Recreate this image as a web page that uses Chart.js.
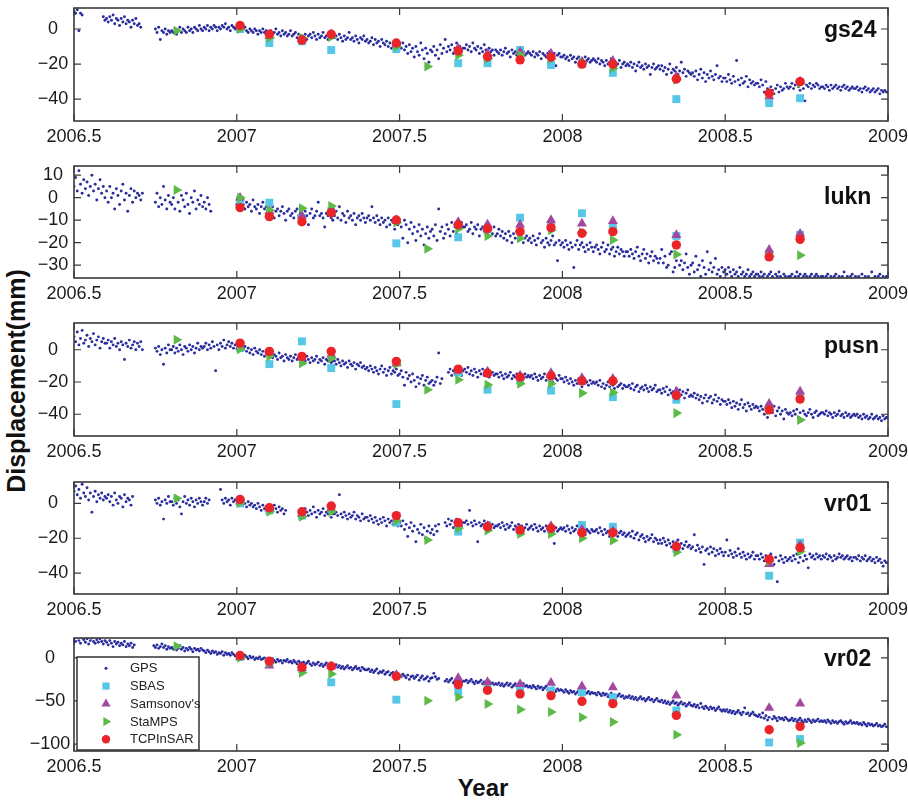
<!DOCTYPE html>
<html>
<head>
<meta charset="utf-8">
<script src="https://cdn.jsdelivr.net/npm/chart.js@4.4.1/dist/chart.umd.min.js"></script>
<style>
  body { margin: 0; background: #fff; width: 908px; height: 802px; position: relative; overflow: hidden;
         font-family: "Liberation Sans", Arial, sans-serif; }
  canvas.panel { position: absolute; left: 0; }
  .ytitle { position: absolute; left: 16px; top: 381px; transform: translate(-50%, -50%) rotate(-90deg);
            font-weight: bold; font-size: 25px; line-height: 1; white-space: nowrap; color: #111; }
  .xtitle { position: absolute; left: 483px; top: 776px; transform: translateX(-50%);
            font-weight: bold; font-size: 24px; line-height: 1; white-space: nowrap; color: #111; }
</style>
</head>
<body>
<div class="ytitle">Displacement(mm)</div>
<div class="xtitle">Year</div>
<script>
// SAR acquisition dates (decimal year)
var sarDates = [2006.815, 2007.01, 2007.10, 2007.20, 2007.29, 2007.49, 2007.585, 2007.68,
                2007.77, 2007.87, 2007.965, 2008.06, 2008.155, 2008.35, 2008.635, 2008.73];

// GPS daily-ish samples, one every 0.005 yr from 2006.5 to 2009.0 (null = no data)
var gpsStart = 2006.5, gpsStep = 0.005;

var gpsGs24 = [
  10, 9, 11, -1, 9, 8, null, null, null, null, null, null, null, null, null, null, null, null, 7, 5,
  6, 4, 7, 5, 8, 3, 6, 5, 2, 6, 4, 7, 3, 5, 4, 1, 5, 3, 6, 2,
  3, 1, null, null, null, null, null, null, null, null, 0, -2, 1, -6, -1, -2, 0, -3, -1, -2,
  -1, -2, 0, -3, -1, 1, -2, 0, -1, -2, 1, -1, 0, -2, 1, 0, -1, 2, 0, -1,
  1, 0, 2, -1, 1, 0, 2, 1, -1, 1, 0, 2, 1, 3, 0, 1, -1, 2, 1, 0,
  1, 0, 2, -1, 0, 1, -1, -2, 0, -1, -2, 0, -1, -3, -1, -2, 0, -2, -1, -3,
  -2, -1, -3, -2, 0, -3, -2, -4, -1, -3, -2, -4, -3, -1, -4, -3, -2, -5, -3, -4,
  -4, -5, -3, -6, -4, -3, -5, -2, -4, -6, -3, -5, -4, -2, -5, -4, -6, -3, -5, -4,
  -5, -4, -6, -3, -5, -7, -4, -6, -5, -2, -6, -5, -7, -4, -6, -8, -5, -6, -4, -7,
  -6, -8, -7, -5, -9, -6, -8, -7, -10, -6, -8, -9, -7, -10, -8, -11, -9, -7, -10, -9,
  -9, -11, -8, -12, -10, -14, -9, -13, -11, -16, -10, -13, -15, -8, -12, -17, -11, -14, -19, -12,
  -13, -10, -15, -12, -17, -9, -14, -11, -6, -13, -10, -12, -9, -14, -11, -8, -12, -10, -13, -11,
  -11, -9, -12, -10, -13, -8, -11, -12, -10, -14, -11, -13, -9, -12, -14, -11, -13, -12, -15, -12,
  -13, -14, -12, -15, -13, -11, -14, -13, -16, -12, -14, -13, -15, -12, -14, -16, -13, -15, -14, -13,
  -14, -15, -13, -16, -14, -15, -13, -17, -14, -15, -16, -14, -13, -15, -17, -14, -21, -15, -14, -16,
  -16, -15, -17, -16, -18, -15, -17, -16, -19, -17, -16, -18, -17, -19, -16, -18, -17, -19, -18, -17,
  -18, -19, -17, -20, -18, -19, -21, -18, -20, -19, -17, -20, -19, -21, -20, -18, -22, -20, -19, -21,
  -20, -21, -19, -22, -20, -24, -21, -19, -22, -21, -23, -20, -22, -21, -26, -22, -20, -23, -22, -21,
  -23, -21, -24, -22, -26, -23, -20, -25, -23, -24, -22, -26, -24, -19, -25, -23, -27, -24, -25, -26,
  -25, -27, -24, -29, -26, -23, -28, -25, -30, -26, -28, -24, -27, -29, -26, -21, -28, -27, -30, -28,
  -28, -30, -26, -29, -31, -27, -30, -18, -29, -32, -28, -31, -30, -27, -33, -29, -31, -30, -32, -31,
  -31, -33, -29, -32, -36, -30, -34, -39, -33, -35, -37, -34, -32, -36, -33, -35, -34, -31, -33, -34,
  -33, -31, -34, -32, -30, -33, -35, -31, -34, -41, -32, -33, -31, -34, -32, -33, -31, -32, -34, -33,
  -33, -34, -32, -33, -35, -32, -34, -33, -32, -34, -33, -35, -33, -32, -34, -33, -35, -34, -33, -34,
  -34, -33, -35, -34, -36, -34, -33, -35, -34, -36, -35, -34, -36, -35, -34, -37, -35, -36, -35, -36,
  -36
];

var gpsLukn = [
  5, 9, 3, 12, 6, 2, 8, 4, 7, 1, 5, 10, 3, 6, -1, 4, 8, 2, 5, 0,
  3, -2, 5, 0, 2, -5, 4, 1, -3, 3, 6, -1, 2, -6, 1, 4, -2, 3, 0, 2,
  1, -1, 2, null, null, null, null, null, null, null, -2, 2, -4, 0, -3, 5, -1, -5, 1, -2,
  -3, 0, -5, 3, -2, -6, 1, -1, -4, 2, -3, -7, 0, -2, 3, -5, -1, -3, 1, -4,
  -2, -5, 0, -3, -6, null, null, null, null, null, null, null, null, null, null, null, null, null, null, null,
  -3, -2, -4, -1, -3, -5, -2, -4, -3, -6, -1, -4, -5, -3, -7, -4, -2, -5, -4, -6,
  -5, -7, -4, -9, -6, -5, -8, -6, -4, -7, -10, -6, -5, -8, -7, -9, -6, -5, -8, -7,
  -7, -9, -6, -8, -12, -7, -5, -9, -8, -6, -2, -8, -7, -9, -13, -7, -8, -6, -9, -10,
  -8, -6, -9, -4, -10, -7, -8, -11, -6, -9, -8, -10, -7, -12, -9, -8, -10, -7, -9, -11,
  -9, -8, -10, -4, -9, -11, -8, -10, -12, -9, -11, -10, -13, -9, -12, -10, -11, -14, -10, -12,
  -11, -13, -18, -10, -12, -20, -14, -11, -16, -13, -19, -15, -12, -17, -14, -21, -16, -13, -18, -15,
  -14, -17, -12, -19, -5, -15, -13, -18, -16, -12, -14, -17, -11, -15, -13, -16, -12, -14, -11, -13,
  -13, -12, -15, -14, -11, -16, -13, -14, -12, -17, -14, -13, -15, -16, -12, -15, -14, -16, -13, -17,
  -16, -14, -17, -15, -18, -16, -19, -15, -17, -20, -16, -18, -15, -19, -17, -16, -20, -18, -17, -19,
  -18, -20, -17, -19, -21, -18, -16, -20, -19, -22, -18, -20, -21, -19, -17, -21, -20, -28, -19, -21,
  -20, -22, -19, -21, -23, -20, -22, -31, -21, -19, -23, -21, -20, -22, -24, -21, -23, -20, -22, -24,
  -22, -21, -23, -25, -22, -20, -24, -23, -21, -25, -23, -22, -26, -24, -22, -25, -23, -24, -26, -24,
  -24, -26, -23, -25, -27, -24, -22, -26, -28, -25, -23, -27, -25, -29, -26, -24, -28, -26, -27, -29,
  -27, -23, -29, -26, -31, -30, -25, -24, -33, -31, -28, -22, -30, -28, -32, -29, -25, -31, -34, -30,
  -29, -33, -26, -32, -30, -35, -28, -31, -34, -24, -32, -29, -33, -31, -27, -34, -32, -35, -31, -33,
  -32, -34, -31, -33, -35, -32, -34, -33, -35, -31, -34, -33, -35, -34, -32, -35, -34, -33, -35, -34,
  -34, -35, -33, -35, -34, -36, -35, -34, -33, -35, -36, -34, -35, -33, -35, -36, -34, -35, -36, -35,
  -35, -34, -36, -35, -33, -35, -34, -36, -35, -34, -35, -36, -35, -34, -36, -35, -34, -35, -36, -35,
  -35, -36, -35, -34, -36, -35, -36, -35, -34, -36, -35, -36, -35, -33, -36, -35, -36, -35, -34, -36,
  -35, -36, -35, -36, -34, -36, -35, -36, -35, -36, -33, -36, -35, -36, -35, -34, -36, -35, -36, -35,
  -36
];

var gpsPusn = [
  8, 5, 11, 3, 7, 12, 4, 6, 9, 2, 7, 5, 10, 3, 6, 8, 1, 5, 7, 4,
  4, 6, 1, 5, 3, 7, 2, 4, 0, 5, 3, -6, 4, 2, 6, 1, 3, 5, 0, 4,
  2, 5, 0, null, null, null, null, null, null, null, 1, -1, 2, -3, 0, -9, 1, -2, 3, 0,
  0, 2, -2, 1, -1, 3, 0, -3, 2, 1, -1, 3, 0, 2, -2, 1, 4, 0, 2, 1,
  2, 4, 0, 3, 1, 5, 2, -13, 3, 0, 4, 2, 6, 1, 3, 5, 2, 4, 1, 3,
  3, 5, 1, 4, 0, 2, -1, 1, -2, 0, -3, 1, -1, -2, 0, -3, -1, -4, -2, -3,
  -3, -2, -5, -3, -4, -6, -2, -5, -4, -7, -3, -5, -6, -4, -7, -5, -3, -6, -5, -7,
  -6, -5, -7, -4, -6, -8, -5, -7, -6, -4, -8, -6, -7, -5, -9, -6, -7, -5, -8, -7,
  -7, -9, -6, -8, -10, -7, -9, -8, -11, -7, -9, -10, -8, -12, -9, -10, -8, -11, -10, -12,
  -11, -13, -10, -12, -14, -11, -13, -15, -12, -10, -14, -12, -16, -13, -11, -15, -13, -14, -12, -16,
  -15, -13, -17, -22, -14, -18, -16, -20, -15, -19, -23, -17, -21, -18, -16, -22, -19, -17, -21, -20,
  -19, -22, -20, -17, -2, -21, -18, null, null, null, -14, -12, -16, -13, -15, -11, -14, -12, -16, -13,
  -12, -14, -11, -15, -13, -16, -12, -14, -17, -13, -15, -12, -16, -14, -13, -17, -15, -14, -16, -15,
  -15, -17, -14, -16, -18, -15, -17, -16, -14, -18, -16, -17, -15, -19, -16, -17, -18, -15, -17, -16,
  -17, -16, -18, -15, -17, -19, -16, -18, -17, -15, -19, -17, -18, -16, -20, -17, -18, -19, -16, -18,
  -18, -20, -17, -19, -21, -18, -20, -22, -19, -21, -18, -20, -23, -19, -21, -20, -22, -19, -21, -20,
  -21, -20, -22, -19, -23, -21, -24, -22, -20, -23, -21, -22, -24, -20, -23, -22, -21, -24, -22, -23,
  -23, -22, -24, -21, -25, -23, -22, -26, -24, -23, -25, -22, -24, -26, -23, -25, -24, -22, -26, -25,
  -25, -27, -24, -26, -23, -28, -25, -27, -26, -29, -24, -27, -25, -28, -26, -30, -27, -25, -29, -28,
  -29, -27, -30, -28, -31, -29, -33, -30, -28, -32, -30, -29, -33, -31, -28, -32, -30, -34, -31, -32,
  -32, -34, -31, -33, -36, -32, -35, -33, -37, -34, -31, -36, -34, -38, -33, -35, -37, -34, -36, -35,
  -36, -38, -35, -37, -40, -36, -42, -38, -37, -39, -35, -41, -38, -36, -40, -38, -43, -37, -39, -40,
  -39, -41, -38, -40, -37, -42, -39, -44, -38, -40, -41, -39, -37, -40, -42, -39, -38, -41, -40, -39,
  -39, -40, -38, -41, -39, -40, -42, -39, -41, -40, -38, -41, -40, -42, -39, -41, -40, -42, -41, -40,
  -41, -40, -42, -41, -43, -40, -42, -41, -43, -42, -40, -43, -42, -41, -43, -42, -44, -41, -43, -42,
  -42
];

var gpsVr01 = [
  7, 10, 5, 8, 3, 11, 6, 4, 9, 2, 6, -5, 4, 7, 1, 5, 3, 6, 2, 4,
  3, 5, 1, 4, -1, 6, 2, 0, 4, 3, -2, 5, 1, 3, 2, -1, 4, null, null, null,
  null, null, null, null, null, null, null, null, null, null, 2, 0, 3, -1, 1, -9, 2, 0, 4, 1,
  1, -1, 3, 0, 2, -2, -6, 1, 4, 0, 2, -1, 3, 1, -2, 2, 0, 3, 1, -1,
  1, 3, 0, 2, null, null, null, null, null, null, 8, 2, 0, 3, 1, 2, -1, 3, 1, 2,
  2, 0, 1, -1, 2, 0, -2, 1, -1, 0, -2, -1, -3, 0, -2, -4, -1, -3, -2, -4,
  -3, -2, -4, -1, -3, -5, -2, -4, -3, -6, -4, null, null, null, null, null, null, null, null, -5,
  -4, -6, -3, -5, -7, -4, -6, -2, -5, -8, -4, -6, -5, -3, -7, -5, -6, -4, -8, -6,
  -6, -5, -7, 5, -6, -8, -5, -7, -9, -6, -8, -7, -5, -9, -7, -8, -10, -6, -9, -8,
  -8, -10, -7, -9, -11, -8, -10, -12, -9, -11, -8, -10, -13, -9, -11, -10, -12, -9, -11, -13,
  -11, -13, -10, -15, -12, -19, -14, -11, -16, -13, -22, -15, -17, -12, -18, -14, -20, -16, -13, -17,
  -15, -18, -13, -16, -12, null, null, null, -11, -13, -9, -12, -10, -14, -11, -9, -12, -10, -13, -11,
  -11, -10, -12, -4, -11, -13, -10, -12, -22, -11, -13, -12, -10, -14, -12, -11, -13, -12, -14, -13,
  -13, -12, -14, -11, -13, -15, -12, -14, -13, -11, -15, -13, -14, -12, -16, -13, -15, -14, -12, -15,
  -14, -13, -15, -12, -14, -16, -13, -15, -14, -16, -13, -15, -14, -17, -15, -23, -14, -16, -15, -14,
  -15, -14, -16, -13, -15, -17, -14, -16, -15, -13, -17, -15, -16, -14, -18, -15, -16, -17, -15, -16,
  -16, -15, -17, -14, -16, -18, -15, -17, -16, -19, -17, -15, -18, -16, -19, -17, -16, -18, -17, -19,
  -18, -17, -19, -16, -20, -18, -17, -21, -19, -18, -20, -22, -19, -21, -20, -18, -22, -20, -21, -23,
  -21, -23, -20, -22, -24, -21, -23, -25, -22, -24, -23, -21, -25, -23, -26, -24, -22, -25, -24, -26,
  -25, -18, -27, -24, -26, -28, -25, -35, -27, -26, -29, -25, -28, -26, -30, -27, -29, -26, -28, -30,
  -28, -21, -30, -27, -29, -31, -28, -30, -26, -29, -31, -28, -30, -32, -29, -31, -30, -28, -32, -30,
  -30, -32, -29, -31, -33, -30, -34, -31, -29, -33, -35, -31, -45, -33, -30, -32, -34, -31, -33, -32,
  -31, -33, -30, -32, -29, -34, -31, -28, -33, -30, -32, -37, -29, -31, -30, -32, -29, -31, -30, -32,
  -30, -31, -29, -32, -30, -31, -33, -30, -32, -31, -29, -31, -30, -32, -31, -30, -32, -31, -33, -31,
  -31, -32, -30, -33, -31, -32, -30, -33, -32, -31, -33, -32, -34, -31, -33, -32, -34, -36, -33, -34,
  -34
];

var gpsVr02 = [
  22, 19, 24, 20, 17, 23, 21, 18, 22, 16, 20, 23, 19, 17, 21, 18, 22, 19, 16, 20,
  18, 15, 20, 17, 13, 19, 16, 18, 14, 17, 15, 19, 13, 16, 14, 17, 12, 15, null, null,
  null, null, null, null, null, null, null, null, null, 14, 12, 15, 11, 13, 16, 12, 14, 10, 13, 11,
  12, 10, 13, 9, 11, 14, 10, 12, 8, 11, 9, 12, 10, 7, 11, 9, 10, 8, 11, 9,
  8, 6, 9, 7, 5, 8, 6, 7, 4, 6, 5, 7, 3, 6, 4, 5, 3, 6, 4, 2,
  3, 1, 4, 2, 0, 3, 1, -1, 2, 0, 1, -2, 0, -1, 1, -2, -1, 0, -3, -1,
  -2, -4, -1, -3, -5, -2, -4, -3, -6, -3, -4, -2, -5, -4, -6, -3, -5, -7, -4, -6,
  -6, -5, -8, -6, -4, -7, -9, -6, -8, -7, -5, -9, -7, -10, -8, -6, -9, -8, -11, -9,
  -10, -8, -11, -9, -12, -10, -13, -11, -9, -12, -11, -14, -12, -10, -13, -12, -15, -11, -13, -14,
  -14, -13, -16, -14, -17, -15, -13, -18, -16, -17, -15, -19, -17, -16, -20, -18, -17, -21, -19, -20,
  -20, -22, -19, -21, -23, -20, -25, -22, -21, -24, -22, -20, -26, -23, -21, -25, -24, -22, -27, -24,
  -23, -18, -22, -25, -24, null, null, null, -27, -25, -28, -26, -24, -29, -27, -25, -28, -26, -29, -27,
  -27, -26, -29, -27, -25, -28, -30, -27, -29, -28, -26, -30, -28, -31, -29, -27, -30, -29, -31, -30,
  -31, -29, -32, -30, -33, -31, -29, -32, -30, -34, -32, -30, -33, -31, -34, -32, -30, -33, -32, -34,
  -33, -35, -32, -34, -36, -33, -35, -34, -37, -35, -33, -37, -36, -38, -35, -37, -39, -36, -38, -37,
  -38, -40, -37, -39, -41, -38, -40, -39, -42, -40, -38, -41, -39, -42, -40, -41, -39, -42, -40, -41,
  -41, -43, -40, -42, -44, -41, -43, -42, -45, -43, -41, -44, -43, -46, -44, -42, -45, -44, -47, -45,
  -46, -44, -47, -45, -48, -46, -49, -47, -45, -48, -47, -50, -48, -46, -49, -48, -51, -49, -47, -50,
  -51, -49, -52, -50, -53, -51, -54, -52, -50, -53, -52, -55, -53, -51, -54, -53, -56, -54, -52, -55,
  -56, -54, -57, -55, -58, -53, -57, -59, -56, -58, -60, -57, -59, -58, -61, -59, -57, -60, -62, -60,
  -62, -60, -63, -61, -64, -62, -65, -63, -61, -64, -66, -63, -58, -65, -64, -67, -65, -63, -66, -67,
  -68, -66, -69, -64, -70, -67, -72, -69, -58, -71, -68, -70, -73, -69, -71, -70, -72, -69, -71, -73,
  -72, -70, -73, -71, -74, -72, -70, -73, -75, -72, -74, -71, -73, -75, -72, -74, -73, -71, -74, -73,
  -74, -73, -75, -72, -74, -76, -73, -75, -74, -76, -74, -73, -75, -77, -74, -76, -75, -73, -76, -75,
  -76, -75, -77, -76, -78, -75, -77, -79, -76, -78, -77, -79, -78, -76, -79, -78, -80, -79, -77, -80,
  -80
];

// InSAR results at sarDates (null = no marker)
var sbasGs24   = [null, 0, -8, -7, -12, -11.5, null, -19.5, -19.5, -12, -20.5, -20, -25, -40, -42.3, -39.5];
var samsGs24   = [null, 1, -4, -6, -3, -9, null, -11, -14, -13, -14, -18.5, -18.2, -27, -38.5, -30];
var stampsGs24 = [-1, 0, -5, -5, -4.5, -10, -21.4, -15, -17, -14.8, -17, -19, -22.4, -29, -37, -31];
var tcpGs24    = [null, 2, -3, -6.3, -3, -8, null, -12.5, -15.8, -17.6, -16, -20, -20, -28.5, -36.6, -30];

var sbasLukn   = [null, -1, -2.2, -9, -6, -20.3, null, -17.6, -14, -8.9, -12, -6.9, -12.5, -17, -25, -16.5];
var samsLukn   = [null, 0, -6, -8.1, -5, -10, null, -10.8, -11.9, -12.1, -9.9, -11.5, -10.4, -16.6, -23.2, -16];
var stampsLukn = [3.4, 0, -5.6, -4.7, -3.7, -11, -22.7, -13.8, -17, -18, -14.5, -15.5, -18.8, -25.2, -26, -25.6];
var tcpLukn    = [null, -4.4, -8.4, -10.7, -6.7, -9.9, null, -12, -13.8, -15.1, -13.3, -15.8, -15.1, -21, -26.3, -18.5];

var sbasPusn   = [null, 1, -8.9, 5.2, -11.4, -33.7, null, -14, -24.8, -19, -25.3, -19.5, -29.4, -31, -36, -30];
var samsPusn   = [null, 2, -2, -5, -3, -8.6, null, -13, -13.5, -16, -14.5, -17.6, -18, -25.9, -33.5, -25.9];
var stampsPusn = [6.2, 0.4, -4.1, -8.3, -5.2, -9, -24.8, -18.6, -21.7, -21.1, -21.1, -26.9, -26.5, -39.3, -37.5, -43.5];
var tcpPusn    = [null, 4.1, -1, -4.1, -1, -7.2, null, -12, -14.5, -17, -16.1, -19.3, -19.3, -28.4, -37.3, -30.6];

var sbasVr01   = [null, 0, -4, -7, -3, -11, null, -16.2, -13, -16, -15, -12.4, -13.4, -26, -41.5, -22.5];
var samsVr01   = [null, 1, -3, -6, -3, -9, null, -12, -13, -15, -13, -15, -16, -24, -34.9, -24];
var stampsVr01 = [2.9, 0.4, -4.8, -7.6, -4.8, -10, -21, -14.3, -15.6, -17.5, -17.5, -20, -21.3, -28, -33, -27.6];
var tcpVr01    = [null, 2.3, -2.5, -4.8, -1.5, -7, null, -11, -13.4, -15.2, -14.3, -16.8, -16.8, -24.8, -32, -25.4];

var sbasVr02   = [null, 1, -5, -13, -28.4, -48.5, null, -38.8, -34, -35, -38, -40, -45.8, -61, -98.1, -94.2];
var samsVr02   = [null, 1, -8.9, -12, -10, -20, null, -23.3, -28, -30.3, -29, -33, -34.2, -43.8, -58.1, -53.1];
var stampsVr02 = [13.5, 0, -6, -17.4, -18.6, -22, -49.7, -45.5, -53.5, -60, -62.8, -69, -74.4, -89.2, null, -98.8];
var tcpVr02    = [null, 2.7, -3.9, -10.9, -9.7, -21.3, null, -31, -37.6, -41.9, -43.8, -50.4, -53.1, -66.7, -83.4, -79.5];

var seriesNames = ['GPS', 'SBAS', "Samsonov's", 'StaMPS', 'TCPInSAR'];

// layout / style per panel
var panels = [
  { name: 'gs24', top: 0,   h: 150, min: -52.5, max: 12,   step: 20, pad: 5.75, nameY: 29,
    gps: gpsGs24, sbas: sbasGs24, sams: samsGs24, stamps: stampsGs24, tcp: tcpGs24 },
  { name: 'lukn', top: 158, h: 149, min: -35.7, max: 14.1, step: 10, pad: 5.75, nameY: 38,
    gps: gpsLukn, sbas: sbasLukn, sams: samsLukn, stamps: stampsLukn, tcp: tcpLukn },
  { name: 'pusn', top: 315, h: 150, min: -53.5, max: 16.6, step: 20, pad: 5.75, nameY: 30,
    gps: gpsPusn, sbas: sbasPusn, sams: samsPusn, stamps: stampsPusn, tcp: tcpPusn },
  { name: 'vr01', top: 474, h: 149, min: -52,   max: 12.3, step: 20, pad: 5.75, nameY: 29,
    gps: gpsVr01, sbas: sbasVr01, sams: samsVr01, stamps: stampsVr01, tcp: tcpVr01 },
  { name: 'vr02', top: 630, h: 150, min: -108,  max: 23,   step: 50, pad: 3.75, nameY: 28, legend: true,
    gps: gpsVr02, sbas: sbasVr02, sams: samsVr02, stamps: stampsVr02, tcp: tcpVr02 }
];

var FONT = '"Liberation Sans", Arial, sans-serif';
var AXIS = '#3a3a3a';

function toPoints(xs, ys) {
  var out = [];
  for (var i = 0; i < ys.length; i++) {
    if (ys[i] !== null) out.push({ x: xs[i], y: ys[i] });
  }
  return out;
}

var gpsTimes = [];
for (var k = 0; k < gpsGs24.length; k++) gpsTimes.push(Math.round((gpsStart + k * gpsStep) * 1000) / 1000);

function marker(ctx, style, rot, r, x, y) {
  ctx.beginPath();
  if (style === 'circle') {
    ctx.arc(x, y, r, 0, Math.PI * 2);
  } else if (style === 'rect') {
    var s = r * Math.SQRT1_2;
    ctx.rect(x - s, y - s, 2 * s, 2 * s);
  } else if (style === 'triangle' && rot === 90) {
    ctx.moveTo(x + r, y);
    ctx.lineTo(x - 0.5 * r, y - 0.866 * r);
    ctx.lineTo(x - 0.5 * r, y + 0.866 * r);
  } else {
    ctx.moveTo(x, y - r);
    ctx.lineTo(x + 0.866 * r, y + 0.5 * r);
    ctx.lineTo(x - 0.866 * r, y + 0.5 * r);
  }
  ctx.closePath();
  ctx.fill();
}

var framePlugin = {
  id: 'frame',
  afterDatasetsDraw: function (chart, args, opts) {
    var ctx = chart.ctx, a = chart.chartArea, xs = chart.scales.x, ys = chart.scales.y;
    ctx.save();
    // inward ticks on all four sides
    ctx.strokeStyle = AXIS;
    ctx.lineWidth = 1.2;
    ctx.beginPath();
    xs.ticks.forEach(function (t) {
      var px = xs.getPixelForValue(t.value);
      ctx.moveTo(px, a.bottom); ctx.lineTo(px, a.bottom - 7);
      ctx.moveTo(px, a.top); ctx.lineTo(px, a.top + 7);
    });
    ys.ticks.forEach(function (t) {
      var py = ys.getPixelForValue(t.value);
      ctx.moveTo(a.left, py); ctx.lineTo(a.left + 7, py);
      ctx.moveTo(a.right, py); ctx.lineTo(a.right - 7, py);
    });
    ctx.stroke();
    ctx.lineWidth = 1.6;
    ctx.strokeRect(a.left, a.top, a.right - a.left, a.bottom - a.top);

    // station name
    ctx.fillStyle = '#111';
    ctx.font = 'bold 23px ' + FONT;
    ctx.textAlign = 'left';
    ctx.textBaseline = 'alphabetic';
    ctx.fillText(opts.name, a.right - 64, a.top + opts.nameY);

    if (opts.legend) {
      var bx = a.left + 3, by = a.top + 19, bw = 122, bh = a.bottom - 1 - by;
      ctx.fillStyle = '#fff';
      ctx.fillRect(bx, by, bw, bh);
      ctx.lineWidth = 1.5;
      ctx.strokeStyle = '#333';
      ctx.strokeRect(bx, by, bw, bh);
      ctx.font = '13px ' + FONT;
      ctx.textBaseline = 'middle';
      chart.data.datasets.forEach(function (ds, i) {
        var y = by + 11.3 + i * 17.75;
        ctx.fillStyle = ds.backgroundColor;
        marker(ctx, ds.pointStyle || 'circle', ds.pointRotation || 0,
               i === 0 ? 1.5 : ds.pointRadius - 0.5, bx + 29, y);
        ctx.fillStyle = '#222';
        ctx.fillText(ds.label, bx + 53, y + 0.5);
      });
    }
    ctx.restore();
  }
};

panels.forEach(function (p) {
  var cv = document.createElement('canvas');
  cv.className = 'panel';
  cv.width = 908;
  cv.height = p.h;
  cv.style.top = p.top + 'px';
  cv.style.width = '908px';
  cv.style.height = p.h + 'px';
  document.body.appendChild(cv);

  new Chart(cv, {
    type: 'scatter',
    data: {
      datasets: [
        { label: seriesNames[0], data: toPoints(gpsTimes, p.gps), pointRadius: 1.45,
          backgroundColor: '#2a2d9e', borderColor: '#2a2d9e', pointBorderWidth: 0, order: 5 },
        { label: seriesNames[1], data: toPoints(sarDates, p.sbas), pointStyle: 'rect', pointRadius: 5.6,
          backgroundColor: '#56c7e6', borderColor: '#56c7e6', pointBorderWidth: 0, order: 4 },
        { label: seriesNames[2], data: toPoints(sarDates, p.sams), pointStyle: 'triangle', pointRadius: 5.8,
          backgroundColor: '#a3479f', borderColor: '#a3479f', pointBorderWidth: 0, order: 3 },
        { label: seriesNames[3], data: toPoints(sarDates, p.stamps), pointStyle: 'triangle', pointRotation: 90,
          pointRadius: 5.8, backgroundColor: '#5cba47', borderColor: '#5cba47', pointBorderWidth: 0, order: 2 },
        { label: seriesNames[4], data: toPoints(sarDates, p.tcp), pointStyle: 'circle', pointRadius: 4.7,
          backgroundColor: '#ea2428', borderColor: '#ea2428', pointBorderWidth: 0, order: 1 }
      ]
    },
    options: {
      responsive: false,
      animation: false,
      devicePixelRatio: 1,
      events: [],
      layout: { padding: { top: 8, right: 20, left: 0, bottom: 0 } },
      plugins: {
        legend: { display: false },
        tooltip: { enabled: false },
        frame: { name: p.name, nameY: p.nameY, legend: !!p.legend }
      },
      scales: {
        x: {
          type: 'linear', min: 2006.5, max: 2009,
          grid: { display: false, drawTicks: false },
          border: { display: false },
          ticks: { stepSize: 0.5, padding: 5, maxRotation: 0, autoSkip: false, color: '#1a1a1a',
                   font: { size: 18, family: FONT },
                   callback: function (v) { return String(v); } },
          afterFit: function (s) { s.height = 29; s.paddingLeft = 0; s.paddingRight = 0; }
        },
        y: {
          type: 'linear', min: p.min, max: p.max,
          grid: { display: false, drawTicks: false },
          border: { display: false },
          ticks: { stepSize: p.step, includeBounds: false, autoSkip: false, padding: p.pad, crossAlign: 'center',
                   color: '#1a1a1a', font: { size: 18, family: FONT },
                   callback: function (v) { return String(v).replace('-', '\u2212'); } },
          afterFit: function (s) { s.width = 74; s.paddingTop = 0; s.paddingBottom = 0; }
        }
      }
    },
    plugins: [framePlugin]
  });
});
</script>
</body>
</html>
